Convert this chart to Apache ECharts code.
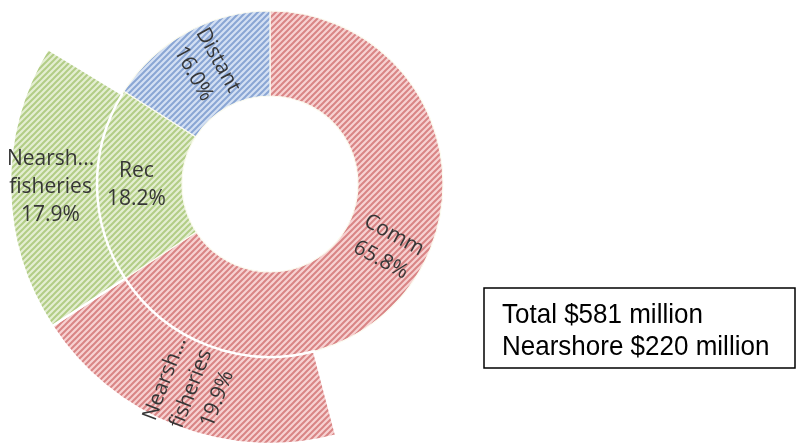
<!DOCTYPE html>
<html>
<head>
<meta charset="utf-8">
<script src="https://cdn.jsdelivr.net/npm/echarts@6/dist/echarts.min.js"></script>
<style>
html,body{margin:0;padding:0;background:#fff;}
#main{width:797px;height:443px;}
</style>
</head>
<body>
<div id="main"></div>
<script>
// ---- data ----
const innerCategories = ['Comm', 'Rec', 'Distant'];
const innerValues = [65.8, 18.2, 16.0];
const outerCategories = ['Nearsh...\nfisheries', 'Nearsh...\nfisheries'];
const outerValues = [19.9, 17.9];
const boxLines = ['Total $581 million', 'Nearshore $220 million'];

// ---- hatch patterns ----
function hatch(bg, fg) {
  const s = 6;
  const c = document.createElement('canvas');
  c.width = s; c.height = s;
  const ctx = c.getContext('2d');
  ctx.fillStyle = bg; ctx.fillRect(0, 0, s, s);
  ctx.strokeStyle = fg; ctx.lineWidth = 2;
  ctx.beginPath();
  ctx.moveTo(-1, s + 1); ctx.lineTo(s + 1, -1);
  ctx.moveTo(-1, 1); ctx.lineTo(1, -1);
  ctx.moveTo(s - 1, s + 1); ctx.lineTo(s + 1, s - 1);
  ctx.stroke();
  return { image: c, repeat: 'repeat' };
}
const redFill = hatch('#f7d2d2', '#d98585');
const greenFill = hatch('#e4eed2', '#b2cd86');
const blueFill = hatch('#d4e0f3', '#8aa6d4');
const innerFills = [redFill, greenFill, blueFill];
const outerFills = [redFill, greenFill];
const innerRot = ['radial', 0, 'radial'];
const outerRot = ['radial', 0];

const labelStyle = {
  fontFamily: 'Open Sans',
  fontSize: 21,
  lineHeight: 28,
  color: '#363636'
};

const innerData = innerCategories.map((n, i) => ({
  name: n,
  value: innerValues[i],
  itemStyle: { color: innerFills[i] },
  label: { rotate: innerRot[i] }
}));

const hidden = v => ({
  name: '', value: v,
  itemStyle: { color: 'rgba(0,0,0,0)', borderWidth: 0 },
  label: { show: false },
  emphasis: { disabled: true },
  tooltip: { show: false }
});

const outerData = [
  hidden(innerValues[0] - outerValues[0]),
  { name: outerCategories[0], value: outerValues[0], itemStyle: { color: outerFills[0] }, label: { rotate: outerRot[0] } },
  { name: outerCategories[1], value: outerValues[1], itemStyle: { color: outerFills[1] }, label: { rotate: outerRot[1] } },
  hidden(100 - innerValues[0] - outerValues[1])
];

const chart = echarts.init(document.getElementById('main'));
chart.setOption({
  animation: false,
  series: [
    {
      type: 'pie',
      center: [270, 184],
      radius: [88, 173],
      startAngle: 90,
      clockwise: true,
      avoidLabelOverlap: false,
      itemStyle: { borderColor: '#fbfbf0', borderWidth: 1.2 },
      label: Object.assign({
        show: true,
        position: 'inside',
        formatter: p => p.name + '\n' + p.value.toFixed(1) + '%'
      }, labelStyle),
      labelLine: { show: false },
      data: innerData
    },
    {
      type: 'pie',
      center: [270, 184],
      radius: [173, 260],
      startAngle: 90,
      clockwise: true,
      avoidLabelOverlap: false,
      itemStyle: { borderColor: '#ffffff', borderWidth: 2.5 },
      label: Object.assign({
        show: true,
        position: 'inside',
        formatter: p => p.name + '\n' + p.value.toFixed(1) + '%'
      }, labelStyle),
      labelLine: { show: false },
      data: outerData
    }
  ],
  graphic: [
    {
      type: 'rect',
      shape: { x: 484, y: 288, width: 311, height: 80 },
      style: { fill: '#ffffff', stroke: '#000000', lineWidth: 1.5 }
    },
    {
      type: 'text',
      x: 502, y: 300,
      scaleY: 1.08,
      style: {
        text: boxLines.join('\n'),
        fontFamily: 'Liberation Sans',
        fontSize: 26,
        lineHeight: 29,
        fill: '#000000'
      }
    }
  ]
});
</script>
</body>
</html>
